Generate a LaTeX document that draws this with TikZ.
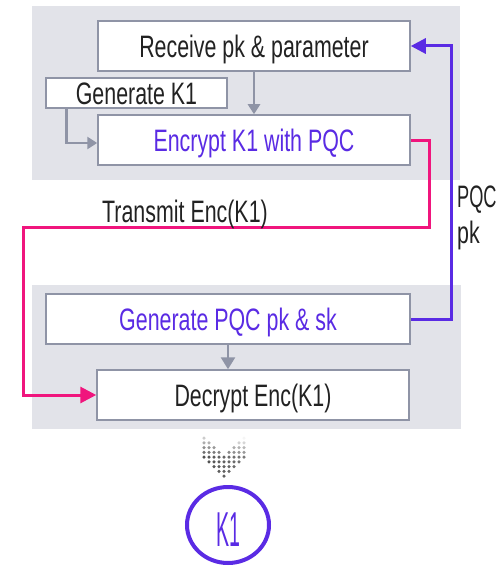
\documentclass[tikz,border=0pt]{standalone}
\usepackage{fontspec}
\setmainfont{Liberation Sans}[FakeStretch=0.69]
\newfontfamily\keyfont{Liberation Sans}[FakeStretch=0.40]
\usetikzlibrary{arrows.meta,shapes.geometric}

\definecolor{panelgray}{HTML}{E2E3E9}
\definecolor{edgegray}{HTML}{8F94A6}
\definecolor{inkdark}{HTML}{222222}
\definecolor{pqcblue}{HTML}{5A2BE4}
\definecolor{sendpink}{HTML}{F0157D}

\tikzset{
  panel/.style={fill=panelgray},
  stepbox/.style={draw=edgegray, line width=1.5pt, fill=white, inner sep=0pt,
    text height=22.6pt, text depth=0pt, text=inkdark,
    font=\fontsize{31pt}{36pt}\selectfont},
  bluetext/.style={text=pqcblue},
  tag/.style={inner sep=0pt, text=inkdark, font=\fontsize{31pt}{36pt}\selectfont},
  grayarrow/.style={draw=edgegray, line width=2.7pt,
    -{Triangle[length=10pt,width=12pt]}},
  pinkline/.style={draw=sendpink, line width=3pt,
    -{Triangle[length=16pt,width=16pt]}},
  blueline/.style={draw=pqcblue, line width=3pt,
    -{Triangle[length=15pt,width=15pt]}},
}

\begin{document}
\begin{tikzpicture}[x=1pt, y=-1pt]
  \useasboundingbox (0,0) rectangle (502,567);

  % sender and receiver panels
  \fill[panel] (32,6) rectangle (460,180);
  \fill[panel] (32,285) rectangle (461,429);

  % sender steps
  \node[stepbox, minimum width=312pt, minimum height=50pt] (rcv) at (254,46)
    {Receive pk \& parameter};
  \node[stepbox, minimum width=181pt, minimum height=30pt] (gk) at (136.5,93)
    {Generate K1};
  \node[stepbox, bluetext, minimum width=312pt, minimum height=50pt] (enc) at (254,140)
    {Encrypt K1 with PQC};

  % receiver steps
  \node[stepbox, bluetext, minimum width=364pt, minimum height=50pt] (gpq) at (228,319)
    {Generate PQC pk \& sk};
  \node[stepbox, minimum width=312pt, minimum height=50pt] (dec) at (253,395)
    {Decrypt Enc(K1)};

  % local flow
  \draw[grayarrow] (rcv.south) -- (enc.north);
  \draw[grayarrow] ([xshift=21pt]gk.south west) |- ([yshift=-3pt]enc.west);
  \draw[grayarrow, -{Triangle[length=12pt,width=14pt]}]
    (gpq.south) -- (gpq.south |- dec.north);

  % exchanged messages
  \draw[pinkline] (enc.east) -- ++(19,0) -- ++(0,87) -- (23,227) |- (dec.west);
  \draw[blueline] (gpq.east) -| ([xshift=41pt]rcv.east) -- (rcv.east);

  \node[tag, anchor=base] (tx) at (185,222) {Transmit Enc(K1)};
  \node[tag, anchor=north west, align=left] (pk) at (457,186)
    {\scalebox{0.85}[1]{PQC}\\pk};

  % dotted down-chevron: vertical sides, 45-degree notch and tip
  \foreach \r in {0,...,8}{
    \foreach \j in {-4,...,4}{
      \pgfmathsetmacro\yy{438+4.75*\r}
      \pgfmathsetmacro\d{abs(5*\j)}
      \pgfmathtruncatemacro\ok{(\yy>=454.5-0.91*\d)&&(\yy<=477-\d)}
      \pgfmathtruncatemacro\shade{min(62,12+12*\r)-2*\j}
      \ifnum\ok=1
        \fill[black!\shade] (224+5*\j, \yy) circle[radius=1.75pt];
      \fi
    }
  }

  % shared key
  \node[ellipse, draw=pqcblue, line width=4pt, minimum width=82pt, minimum height=76pt,
    inner sep=0pt, text=pqcblue, text height=42pt, text depth=0pt,
    font=\keyfont\fontsize{49pt}{55pt}\selectfont] (key) at (228,525) {K1};
\end{tikzpicture}
\end{document}
